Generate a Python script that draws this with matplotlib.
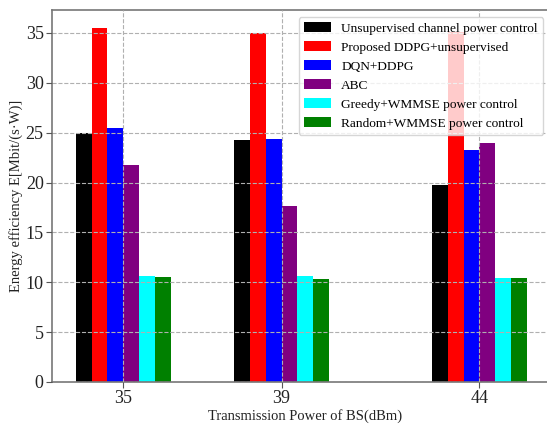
import matplotlib
matplotlib.use("Agg")
import matplotlib.pyplot as plt
import numpy as np

plt.rcParams['font.family'] = ['Liberation Serif', 'DejaVu Serif']

powers = [35, 39, 44]
series_names = [
    "Unsupervised channel power control",
    "Proposed DDPG+unsupervised",
    "DQN+DDPG",
    "ABC",
    "Greedy+WMMSE power control",
    "Random+WMMSE power control",
]
unsupervised = [25.0, 24.3, 19.8]
proposed = [35.5, 35.0, 35.1]
dqn_ddpg = [25.5, 24.4, 23.3]
abc = [21.8, 17.6, 24.0]
greedy = [10.6, 10.6, 10.4]
random_w = [10.5, 10.3, 10.45]
colors = ["black", "red", "blue", "purple", "cyan", "green"]
yticks = [0, 5, 10, 15, 20, 25, 30, 35]

all_series = [unsupervised, proposed, dqn_ddpg, abc, greedy, random_w]

fig = plt.figure(figsize=(5.47, 4.25), dpi=100)
ax = fig.add_axes([52/547, 43/425, (558.6-52)/547, (382-10)/425])

w = 0.4
x = np.array(powers, dtype=float)
for i, (vals, c, name) in enumerate(zip(all_series, colors, series_names)):
    ax.bar(x + (i - 3) * w, vals, width=w, align='edge', color=c, label=name, zorder=2)

ax.set_xlim(33.2, 46.0)
ax.set_ylim(0, 37.3)
ax.set_xticks(powers)
ax.set_xticklabels([str(p) for p in powers])
ax.set_yticks(yticks)
ax.tick_params(axis='both', labelsize=13, colors='#555555', labelcolor='#222222', length=4, pad=2)
ax.grid(True, linestyle='--', color='#b0b0b0', linewidth=0.8, zorder=0)
ax.set_axisbelow(False)
for sp in ax.spines.values():
    sp.set_color('#777777')
    sp.set_linewidth(1.2)

ax.set_xlabel("Transmission Power of BS(dBm)", fontsize=10.5, color='#222222', labelpad=1)
ax.set_ylabel("Energy efficiency E[Mbit/(s·W)]", fontsize=10.5, color='#222222', labelpad=2)

leg = fig.legend(loc='upper right', bbox_to_anchor=(0.993, 0.96), bbox_transform=fig.transFigure,
                 borderaxespad=0, fontsize=9.6, framealpha=0.8, edgecolor='#cccccc', fancybox=True)
fig.savefig("out.png", dpi=100)
